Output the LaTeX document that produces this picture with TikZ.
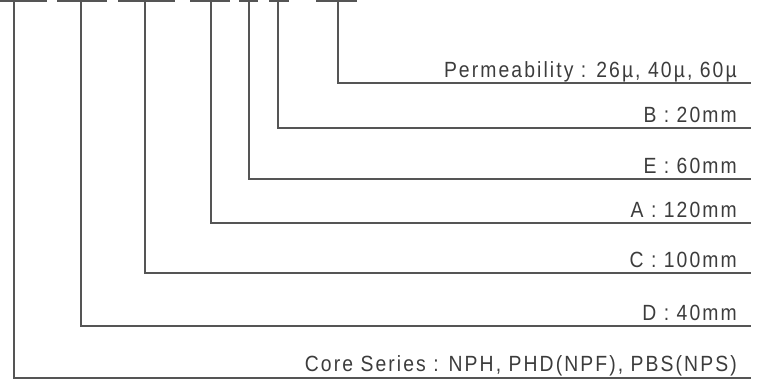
\documentclass[tikz,border=0pt]{standalone}
\usepackage{fontspec}
\newfontfamily\specfont[FakeStretch=0.88, LetterSpace=9.5]{Liberation Sans}
\definecolor{linegray}{HTML}{555555}
\definecolor{textgray}{HTML}{3C3C3C}

\begin{document}
\begin{tikzpicture}[x=1pt, y=1pt,
leader/.style={draw=linegray, line width=1.4pt},
spectext/.style={anchor=base east, inner sep=0pt, text=textgray, font=\specfont\fontsize{22}{24}\selectfont}
]
\useasboundingbox (0,0) rectangle (758,379);

% code bars along the top
\draw[leader] (0,378) -- (47,378);
\draw[leader] (57,378) -- (107,378);
\draw[leader] (118,378) -- (175,378);
\draw[leader] (190,378) -- (230,378);
\draw[leader] (239,378) -- (258,378);
\draw[leader] (269,378) -- (289,378);
\draw[leader] (316,378) -- (357,378);

\coordinate (t1) at (14,378);
\coordinate (t2) at (81,378);
\coordinate (t3) at (145,378);
\coordinate (t4) at (211,378);
\coordinate (t5) at (249,378);
\coordinate (t6) at (278,378);
\coordinate (t7) at (338,378);

\coordinate (e7) at (751,296);
\coordinate (e6) at (751,251);
\coordinate (e5) at (751,200);
\coordinate (e4) at (751,156);
\coordinate (e3) at (751,106);
\coordinate (e2) at (751,53);
\coordinate (e1) at (751,1);

\node[spectext] at (737,301) (perm) {Permeability : 26µ, 40µ, 60µ};
\node[spectext] at (737,256) (b) {B : 20mm};
\node[spectext] at (737,205) (e) {E : 60mm};
\node[spectext] at (737,161) (a) {A : 120mm};
\node[spectext] at (737,111) (c) {C : 100mm};
\node[spectext] at (737,58) (d) {D : 40mm};
\node[spectext] at (737,7) (series) {Core Series : NPH, PHD(NPF), PBS(NPS)};

\draw[leader] (t7) |- (e7);
\draw[leader] (t6) |- (e6);
\draw[leader] (t5) |- (e5);
\draw[leader] (t4) |- (e4);
\draw[leader] (t3) |- (e3);
\draw[leader] (t2) |- (e2);
\draw[leader] (t1) |- (e1);
\end{tikzpicture}
\end{document}
